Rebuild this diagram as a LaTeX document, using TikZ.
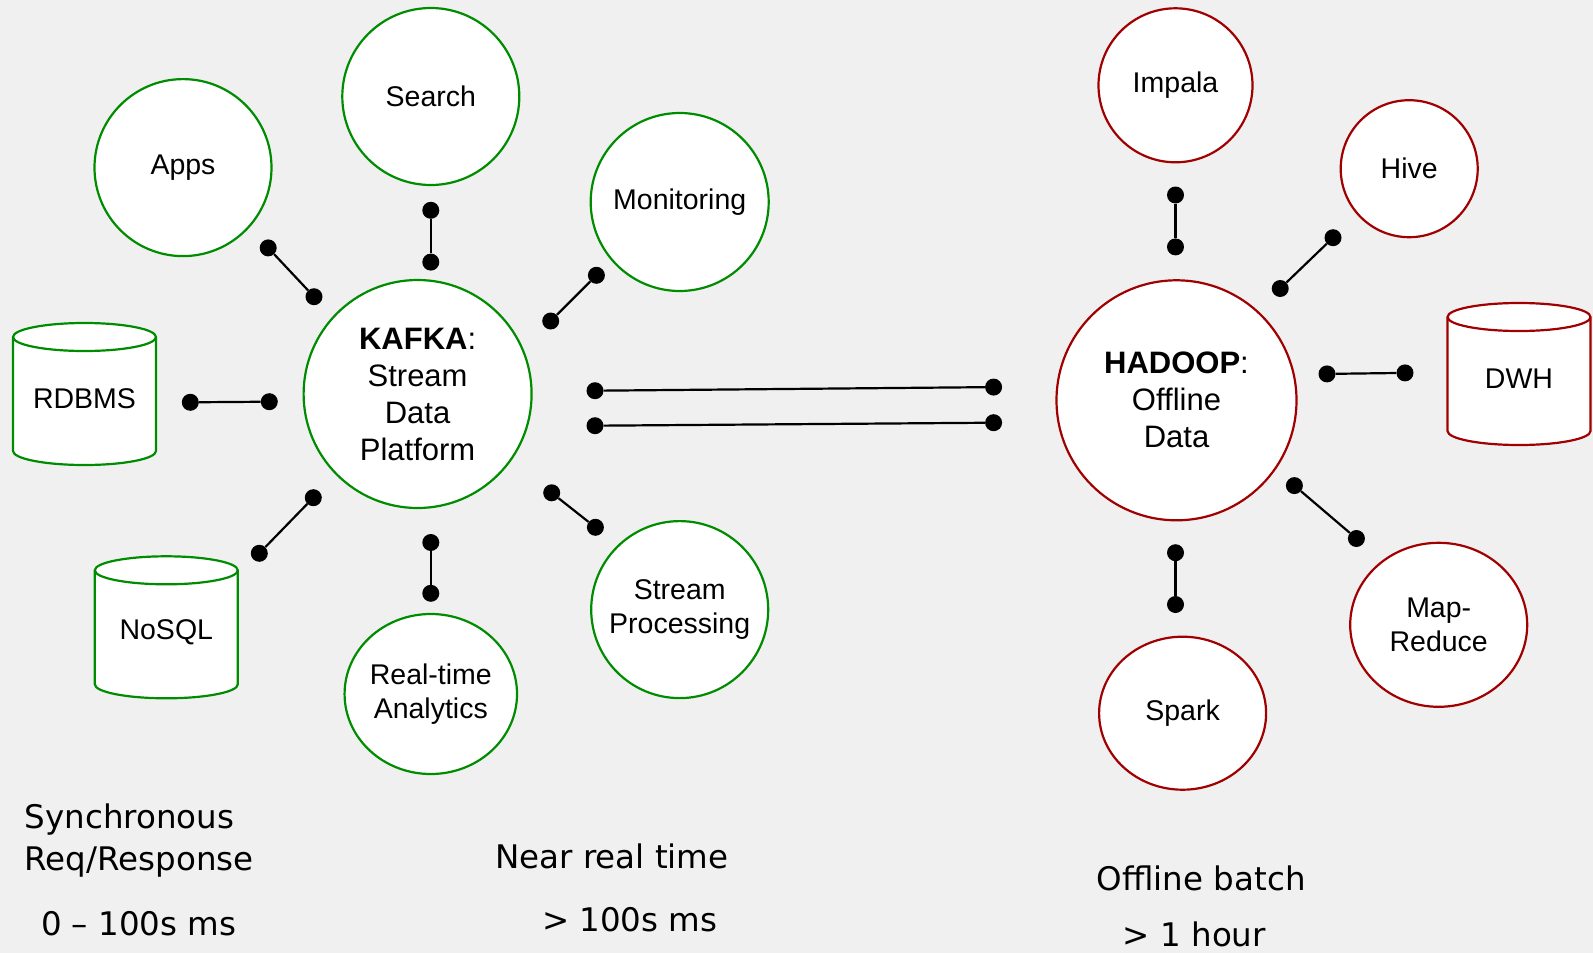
\documentclass[tikz,border=0pt]{standalone}
\usepackage{fontspec}
\setmainfont{Liberation Sans}
\newfontfamily\notefont{DejaVu Sans}
\usepackage{tikz}
\usetikzlibrary{positioning, shapes.geometric, calc}
\definecolor{kfGreen}{RGB}{0, 140, 0}
\definecolor{hdRed}{RGB}{160, 0, 0}
\definecolor{bgGray}{RGB}{240, 240, 240}
\tikzset{
    base/.style={
        align=center,
        inner sep=0pt,
        fill=white,
        line width=2.2pt
    },
    hub/.style={
        base,
        circle,
        font=\fontsize{31}{37}\selectfont
    },
    system/.style={
        base,
        circle,
        font=\fontsize{28.5}{33.5}\selectfont
    },
    oval/.style={
        base,
        ellipse,
        font=\fontsize{28.5}{33.5}\selectfont
    },
    dbtext/.style={
        font=\fontsize{28.5}{33.5}\selectfont,
        inner sep=0pt
    },
    dot/.style={
        circle,
        fill=black,
        inner sep=0pt,
        minimum size=17pt
    },
    link/.style={
        line width=2.2pt,
        black
    },
    note/.style={
        font=\notefont\fontsize{32.5}{39}\selectfont,
        anchor=base west,
        inner sep=0pt
    }
}
% database cylinder: #1 centre, #2 colour
\newcommand{\dbdrum}[2]{%
  \draw[#2, line width=2.2pt, fill=white]
    ($(#1)+(-71.5,57)$) -- ($(#1)+(-71.5,-57)$)
    arc[start angle=180, end angle=360, x radius=71.5pt, y radius=14pt]
    -- ($(#1)+(71.5,57)$)
    arc[start angle=0, end angle=180, x radius=71.5pt, y radius=14pt] -- cycle;
  \draw[#2, line width=2.2pt] ($(#1)+(-71.5,57)$)
    arc[start angle=180, end angle=360, x radius=71.5pt, y radius=14pt];
}

\begin{document}
\begin{tikzpicture}[x=1pt, y=1pt]
  \fill[bgGray] (0,0) rectangle (1593,-953);
  \useasboundingbox (0,0) rectangle (1593,-953);

  % Stream side
  \node[hub, draw=kfGreen, minimum size=228pt] (kafka) at (417.6,-394) {\textbf{KAFKA}:\\Stream\\Data\\Platform};
  \node[system, draw=kfGreen, minimum size=177pt] (search) at (430.8,-96.5) {Search};
  \node[system, draw=kfGreen, minimum size=177pt] (apps) at (183,-167.6) {Apps};
  \node[system, draw=kfGreen, minimum size=178pt] (monitor) at (679.7,-202) {Monitoring};
  \node[system, draw=kfGreen, minimum size=177pt] (stream) at (679.7,-609.6) {Stream\\Processing};
  \node[oval, draw=kfGreen, minimum width=166pt, minimum height=160pt] (analytics) at (430.8,-694) {Real-time\\Analytics};

  \coordinate (rdbmsc) at (84.5,-394);
  \dbdrum{rdbmsc}{kfGreen}
  \node[dbtext] (rdbms) at (84.5,-399) {RDBMS};
  \coordinate (nosqlc) at (166.3,-627.3);
  \dbdrum{nosqlc}{kfGreen}
  \node[dbtext] (nosql) at (166.3,-632) {NoSQL};

  % Batch side
  \node[hub, draw=hdRed, minimum size=240pt] (hadoop) at (1176.5,-400.3) {\textbf{HADOOP}:\\Offline\\Data};
  \node[system, draw=hdRed, minimum size=154pt] (impala) at (1175.5,-85.3) {Impala};
  \node[system, draw=hdRed, minimum size=137pt] (hive) at (1409.2,-168.7) {Hive};
  \node[oval, draw=hdRed, minimum width=177pt, minimum height=164pt] (mapred) at (1438.7,-624.8) {Map-\\Reduce};
  \node[oval, draw=hdRed, minimum width=167pt, minimum height=153pt] (spark) at (1182.6,-713.2) {Spark};

  \coordinate (dwhc) at (1519,-374);
  \dbdrum{dwhc}{hdRed}
  \node[dbtext] (dwh) at (1519,-379) {DWH};

  % connectors
  \node[dot] (appsA) at (268.2,-247.9) {};
  \node[dot] (appsB) at (314,-296.7) {};
  \node[dot] (searchA) at (430.8,-210.3) {};
  \node[dot] (searchB) at (430.8,-262.1) {};
  \node[dot] (monA) at (596.4,-275.3) {};
  \node[dot] (monB) at (550.7,-321) {};
  \node[dot] (rdbA) at (190.3,-402.3) {};
  \node[dot] (rdbB) at (269.3,-401.7) {};
  \node[dot] (nosqlA) at (259.3,-553.3) {};
  \node[dot] (nosqlB) at (313.3,-497.7) {};
  \node[dot] (rtaA) at (430.8,-542.5) {};
  \node[dot] (rtaB) at (430.8,-593.3) {};
  \node[dot] (spA) at (551.7,-492.8) {};
  \node[dot] (spB) at (595.4,-527.3) {};
  \node[dot] (bridgeA1) at (595,-390.7) {};
  \node[dot] (bridgeB1) at (993.6,-387.1) {};
  \node[dot] (bridgeA2) at (595,-425.7) {};
  \node[dot] (bridgeB2) at (993.6,-422.7) {};
  \node[dot] (impA) at (1175.5,-195) {};
  \node[dot] (impB) at (1175.5,-246.9) {};
  \node[dot] (hiveA) at (1333,-237.7) {};
  \node[dot] (hiveB) at (1280.2,-288.5) {};
  \node[dot] (dwhA) at (1327,-373.9) {};
  \node[dot] (dwhB) at (1405,-372.9) {};
  \node[dot] (mrA) at (1294.4,-485.6) {};
  \node[dot] (mrB) at (1356.4,-538.5) {};
  \node[dot] (sparkA) at (1175.5,-552.7) {};
  \node[dot] (sparkB) at (1175.5,-604.5) {};

  \draw[link] (appsA) -- (appsB);
  \draw[link] (searchA) -- (searchB);
  \draw[link] (monA) -- (monB);
  \draw[link] (rdbA) -- (rdbB);
  \draw[link] (nosqlA) -- (nosqlB);
  \draw[link] (rtaA) -- (rtaB);
  \draw[link] (spA) -- (spB);
  \draw[link] (bridgeA1) -- (bridgeB1);
  \draw[link] (bridgeA2) -- (bridgeB2);
  \draw[link] (impA) -- (impB);
  \draw[link] (hiveA) -- (hiveB);
  \draw[link] (dwhA) -- (dwhB);
  \draw[link] (mrA) -- (mrB);
  \draw[link] (sparkA) -- (sparkB);

  % latency notes
  \node[note] (sync) at (24.5,-828.3) {Synchronous};
  \node[note] (req) at (24.5,-870) {Req/Response};
  \node[note] (syncms) at (40.8,-935) {0 – 100s ms};
  \node[note] (near) at (495,-868.3) {Near real time};
  \node[note] (nearms) at (541.8,-931.7) {> 100s ms};
  \node[note] (batch) at (1096.7,-890) {Offline batch};
  \node[note] (batchh) at (1122.7,-946.7) {> 1 hour};
\end{tikzpicture}
\end{document}
